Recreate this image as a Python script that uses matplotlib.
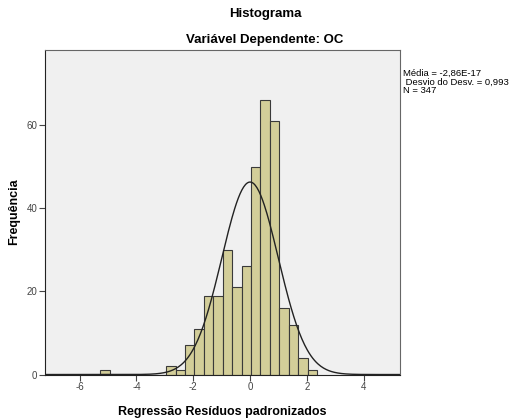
import matplotlib
matplotlib.use('Agg')
import matplotlib.pyplot as plt
import numpy as np

plt.rcParams['font.family'] = ['Liberation Sans', 'DejaVu Sans']
plt.rcParams['axes.unicode_minus'] = False

# histogram of standardized residuals (bin counts)
bin_start = -5.277
bin_width = 0.332
counts = [1, 0, 0, 0, 0, 0, 0, 2, 1, 7, 11, 19, 19, 30, 21, 26, 50, 66, 61, 16, 12, 4, 1]
mean = -2.86e-17
std = 0.993
n = 347

edges = bin_start + bin_width * np.arange(len(counts) + 1)
centers = edges[:-1] + bin_width / 2

fig = plt.figure(figsize=(5.12, 4.18), dpi=100)
ax = fig.add_axes([0.0879, 0.104, 0.6934, 0.776])
ax.set_facecolor('#f0f0f0')

ax.bar(centers, counts, width=bin_width, color='#d3ce99', edgecolor='#3a3a3a', linewidth=0.8)

# normal curve scaled to counts
xs = np.linspace(-7.3, 5.3, 400)
pdf = np.exp(-0.5 * ((xs - mean) / std) ** 2) / (std * np.sqrt(2 * np.pi))
ax.plot(xs, n * bin_width * pdf, color='#222222', linewidth=1)

ax.set_xlim(-7.22, 5.28)
ax.set_ylim(0, 78)
ax.set_xticks([-6, -4, -2, 0, 2, 4])
ax.set_yticks([0, 20, 40, 60])
ax.tick_params(labelsize=7, labelcolor='#444444', length=4, color='#444444', width=0.8, pad=1.5)
for s in ['top', 'right']:
    ax.spines[s].set_color('#666666')
for s in ['left', 'bottom']:
    ax.spines[s].set_color('#222222')

ax.set_xlabel('Regressão Resíduos padronizados', fontsize=9, fontweight='bold', labelpad=10)
fig.text(14 / 512, 1 - 212 / 418, 'Frequência', rotation=90, ha='center', va='center',
         fontsize=9, fontweight='bold')

fig.text(265 / 512, 1 - 14 / 418, 'Histograma', ha='center', va='center', fontsize=9.5, fontweight='bold')
fig.text(265 / 512, 1 - 40 / 418, 'Variável Dependente: OC', ha='center', va='center',
         fontsize=9.5, fontweight='bold')

fig.text(403 / 512, 1 - 69 / 418, 'Média = -2,86E-17\n Desvio do Desv. = 0,993\nN = 347',
         ha='left', va='top', fontsize=6.8, linespacing=0.95)

fig.savefig('out.png', dpi=100)
